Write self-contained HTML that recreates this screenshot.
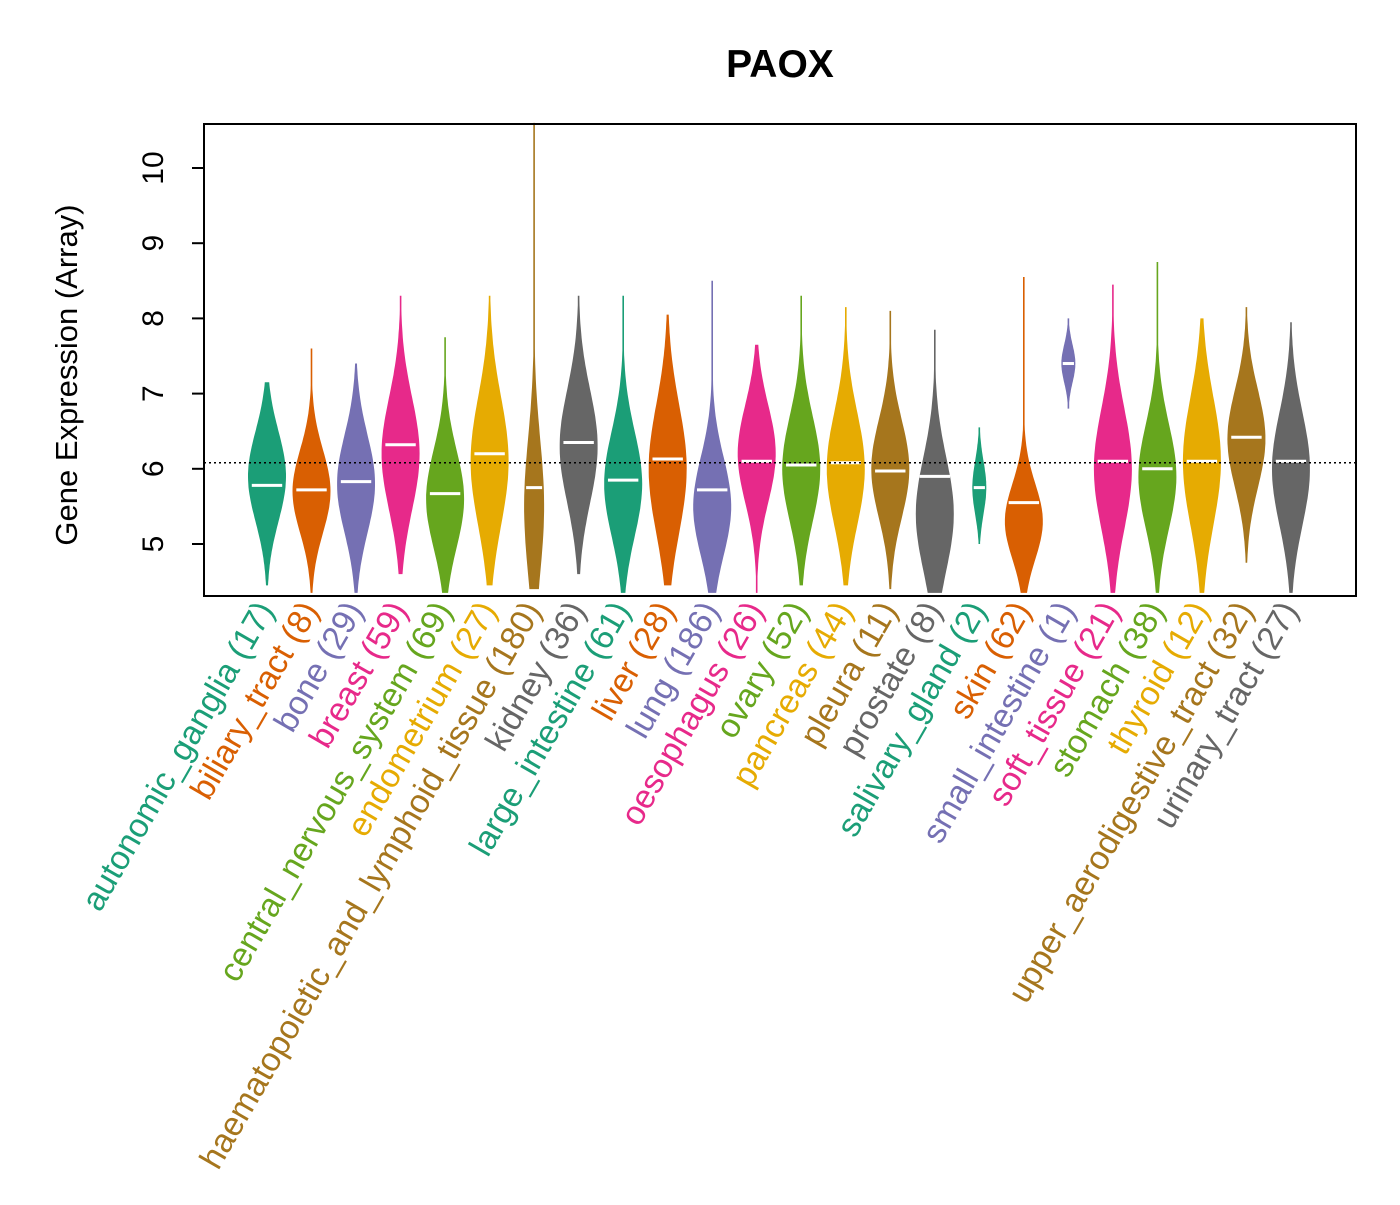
<!DOCTYPE html>
<html><head><meta charset="utf-8"><style>
body{margin:0;background:#fff}
text{font-family:"Liberation Sans",Arial,sans-serif}
</style></head><body>
<svg id="chart" width="1400" height="1200" xmlns="http://www.w3.org/2000/svg">
<rect width="1400" height="1200" fill="#fff"/>
<text x="780" y="77" font-size="39" font-weight="bold" text-anchor="middle">PAOX</text>
<text transform="translate(77,375) rotate(-90)" font-size="31" text-anchor="middle">Gene Expression (Array)</text>
<g id="violins"></g>
<g id="axis"></g>
<rect x="204" y="124" width="1152" height="472" fill="none" stroke="#000" stroke-width="2"/>
</svg>
<script>
const categories=["autonomic_ganglia","biliary_tract","bone","breast","central_nervous_system","endometrium","haematopoietic_and_lymphoid_tissue","kidney","large_intestine","liver","lung","oesophagus","ovary","pancreas","pleura","prostate","salivary_gland","skin","small_intestine","soft_tissue","stomach","thyroid","upper_aerodigestive_tract","urinary_tract"];
const counts=[17,8,29,59,69,27,180,36,61,28,186,26,52,44,11,8,2,62,1,21,38,12,32,27];
const mins=[4.45,4.35,4.35,4.6,4.35,4.45,4.4,4.6,4.35,4.45,4.35,4.35,4.45,4.45,4.4,4.35,5.0,4.35,6.8,4.35,4.35,4.35,4.75,4.35];
const maxs=[7.15,7.6,7.4,8.3,7.75,8.3,10.6,8.3,8.3,8.05,8.5,7.65,8.3,8.15,8.1,7.85,6.55,8.55,8.0,8.45,8.75,8.0,8.15,7.95];
const medians=[5.78,5.72,5.83,6.32,5.67,6.2,5.75,6.35,5.85,6.13,5.72,6.1,6.05,6.08,5.97,5.9,5.75,5.55,7.4,6.1,6.0,6.1,6.42,6.1];
const modes=[5.9,5.7,5.8,6.2,5.6,6.1,5.5,6.3,5.8,6.0,5.5,6.2,6.0,6.0,6.0,5.4,5.75,5.3,7.4,6.0,5.9,6.1,6.4,6.0];
const spreads=[0.6,0.55,0.65,0.75,0.65,0.85,0.9,0.75,0.7,0.85,0.65,0.65,0.7,0.75,0.65,0.75,0.35,0.5,0.25,0.8,0.7,0.85,0.65,0.75];
const yTicks=[5,6,7,8,9,10];
const refLine=6.08;
const colors=["#1B9E77","#D95F02","#7570B3","#E7298A","#66A61E","#E6AB02","#A6761D","#666666"];
const yS=v=>544-(v-5)*75.2;
const xS=i=>267+i*44.52;
const NS="http://www.w3.org/2000/svg";
const vg=document.getElementById('violins'), ag=document.getElementById('axis');
function mk(t,a,p){const e=document.createElementNS(NS,t);for(const k in a)e.setAttribute(k,a[k]);p.appendChild(e);return e;}
categories.forEach((c,i)=>{
  const col=colors[i%8], cx=xS(i);
  const W=i===6?10:(i===16||i===18?7:19);
  let L=[],R=[];
  const n=60;
  for(let k=0;k<=n;k++){
    const v=mins[i]+(maxs[i]-mins[i])*k/n;
    const z=(v-modes[i])/spreads[i];
    const w=Math.max(0.8,W*Math.exp(-z*z/2));
    L.push((cx-w).toFixed(1)+","+yS(v).toFixed(1));
    R.unshift((cx+w).toFixed(1)+","+yS(v).toFixed(1));
  }
  const p=mk('polygon',{points:L.concat(R).join(' '),fill:col},vg);
  
  
  const m=mk('line',{x1:cx-W*0.8,x2:cx+W*0.8,y1:yS(medians[i]),y2:yS(medians[i]),stroke:'#fff','stroke-width':3},vg);
  
  
  const t=mk('text',{transform:`translate(${cx+8},610) rotate(-60)`,'font-size':33.5,'text-anchor':'end',fill:col},ag);
  t.textContent=c+" ("+counts[i]+")";
  
  
});
const rl=mk('line',{x1:204,x2:1356,y1:yS(refLine),y2:yS(refLine),stroke:'#000','stroke-width':1.5,'stroke-dasharray':'2,3'},ag);


mk('line',{x1:204,x2:204,y1:yS(5),y2:yS(10),stroke:'#000','stroke-width':2},ag);
yTicks.forEach(v=>{
  const l=mk('line',{x1:192,x2:204,y1:yS(v),y2:yS(v),stroke:'#000','stroke-width':2},ag);
  
  
  const t=mk('text',{transform:`translate(163,${yS(v)}) rotate(-90)`,'font-size':30,'text-anchor':'middle'},ag);
  t.textContent=v;
  
  
});
</script>
</body></html>
